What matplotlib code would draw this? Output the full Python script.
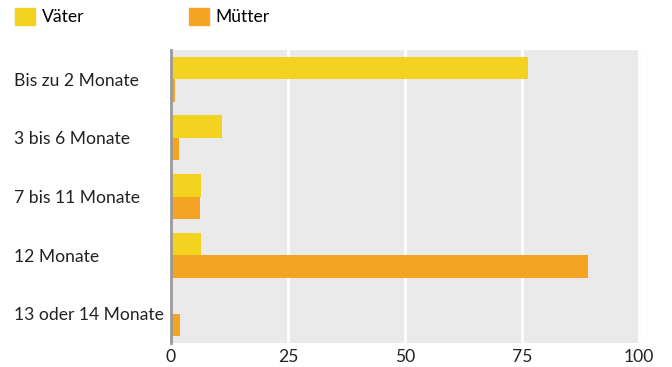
import numpy as np
import matplotlib
matplotlib.use("Agg")
import matplotlib.pyplot as plt
from matplotlib.patches import Patch

categories = ["Bis zu 2 Monate", "3 bis 6 Monate", "7 bis 11 Monate", "12 Monate", "13 oder 14 Monate"]
vaeter = [76.2, 10.8, 6.5, 6.5, 0.0]
muetter = [0.8, 1.7, 6.1, 89.1, 2.0]
xticks = [0, 25, 50, 75, 100]

plt.rcParams['font.family'] = ['Lato', 'DejaVu Sans']
fs = 12.6

fig = plt.figure(figsize=(6.72, 3.67), dpi=100)
ax = fig.add_axes([171 / 672, 1 - 343 / 367, 470 / 672, 293 / 367])
ax.set_facecolor('#EAEAEA')

y = np.arange(len(categories))
h = 0.385
ax.barh(y - h / 2, vaeter, height=h, color='#F4D320', zorder=3)
ax.barh(y + h / 2, muetter, height=h, color='#F4A322', zorder=3)

ax.set_ylim(len(categories) - 0.5, -0.5)
ax.set_xlim(0, 100.4)
ax.set_xticks(xticks)
ax.set_xticklabels([str(t) for t in xticks], fontsize=fs, color='#222222')
ax.xaxis.grid(True, color='white', linewidth=2, zorder=1)
ax.set_axisbelow(True)
ax.tick_params(axis='both', length=0)
ax.tick_params(axis='x', pad=4)

ax.set_yticks(y)
ax.set_yticklabels(categories, fontsize=fs, color='#222222', ha='left')
ax.tick_params(axis='y', pad=157 * 72 / 100)

for s in ['top', 'right', 'bottom']:
    ax.spines[s].set_visible(False)
ax.spines['left'].set_color('#999999')
ax.spines['left'].set_linewidth(2)
ax.spines['left'].set_zorder(4)

handles = [Patch(color='#F4D320', label='Väter'), Patch(color='#F4A322', label='Mütter')]
fig.legend(handles=handles, loc='upper left', bbox_to_anchor=(15 / 672, 1 - 8 / 367),
           ncol=2, frameon=False, fontsize=fs, handlelength=1.12, handleheight=1.12,
           handletextpad=0.4, columnspacing=6.0, borderaxespad=0, borderpad=0)

fig.savefig('out.png', dpi=100)
